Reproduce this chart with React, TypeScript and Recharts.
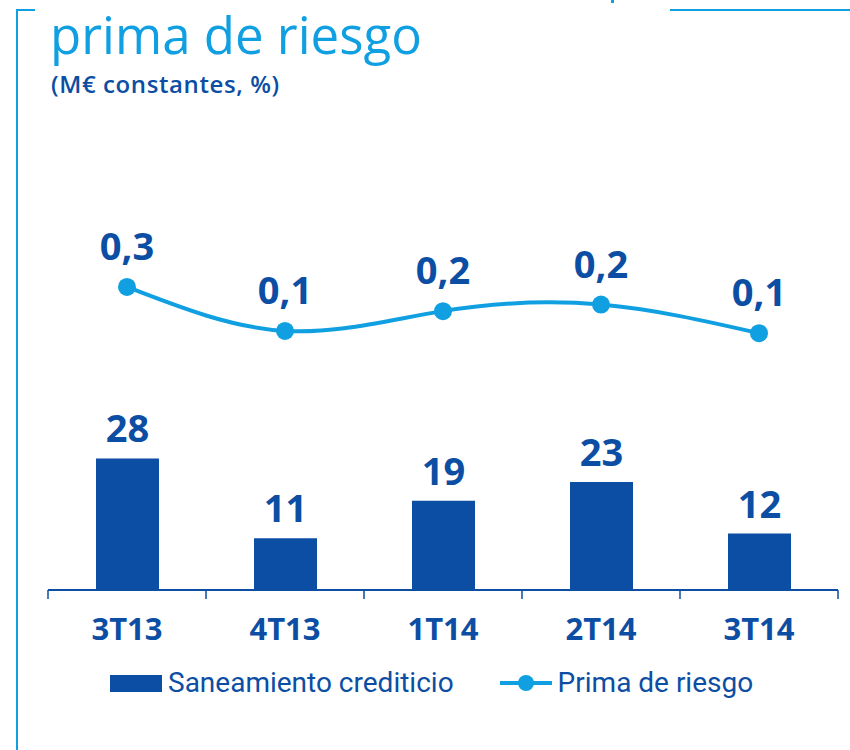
import React from 'react';
import { ComposedChart, Bar, Line, XAxis, YAxis, LabelList } from 'recharts';

const quarters = ['3T13', '4T13', '1T14', '2T14', '3T14'];
const saneamiento = [28, 11, 19, 23, 12];
const primaRiesgo = [0.3, 0.1, 0.19, 0.22, 0.09];

const chartData = quarters.map((q, i) => ({
  quarter: q,
  saneamiento: saneamiento[i],
  prima: primaRiesgo[i],
}));

const DARK = '#0B4EA3';
const CYAN = '#10A0E2';
const W = 850;
const H = 750;
const M = { top: 200, right: 12, bottom: 100, left: 48 };
const halfBand = (W - M.left - M.right) / quarters.length / 2;
const sans = '"Open Sans", "DejaVu Sans", sans-serif';

const QuarterTick = (props: any) => {
  const { x, y, payload, index } = props;
  const isLast = index === quarters.length - 1;
  return (
    <g>
      <line x1={x - halfBand} y1={y - 8} x2={x - halfBand} y2={y + 1} stroke={DARK} strokeWidth={1.5} />
      {isLast && (
        <line x1={x + halfBand} y1={y - 8} x2={x + halfBand} y2={y + 1} stroke={DARK} strokeWidth={1.5} />
      )}
      <text x={x} y={y + 42} textAnchor="middle" fill={DARK} fontSize={31} fontWeight={700} fontFamily={sans}>
        {payload.value}
      </text>
    </g>
  );
};

const fmt = (v: any) => Number(v).toFixed(1).replace('.', ',');

export default function App() {
  return (
    <div style={{ position: 'absolute', left: 0, top: 0, width: W, height: H, background: '#fff', overflow: 'hidden' }}>
      <div style={{ position: 'absolute', left: 16, top: 9, width: 2, height: H, background: CYAN }} />
      <div style={{ position: 'absolute', left: 16, top: 9, width: 19, height: 2, background: CYAN }} />
      <div style={{ position: 'absolute', left: 670, top: 9, width: 180, height: 2, background: CYAN }} />
      <div style={{ position: 'absolute', left: 611, top: 0, width: 3, height: 3, background: CYAN }} />
      <div
        style={{
          position: 'absolute',
          left: 50,
          top: 7,
          fontFamily: sans,
          fontSize: 51,
          color: CYAN,
          lineHeight: '55px',
          whiteSpace: 'nowrap',
        }}
      >
        prima de riesgo
      </div>
      <div
        style={{
          position: 'absolute',
          left: 51,
          top: 69,
          fontFamily: sans,
          fontSize: 24,
          fontWeight: 600,
          letterSpacing: 0.6,
          color: DARK,
          lineHeight: '30px',
          whiteSpace: 'nowrap',
        }}
      >
        (M€ constantes, %)
      </div>
      <div style={{ position: 'absolute', left: 0, top: 0 }}>
        <ComposedChart width={W} height={H} data={chartData} margin={M}>
          <XAxis
            dataKey="quarter"
            axisLine={{ stroke: DARK, strokeWidth: 2 }}
            tickLine={false}
            tick={<QuarterTick />}
            interval={0}
            height={60}
          />
          <YAxis yAxisId="bar" hide domain={[0, 83]} />
          <YAxis yAxisId="line" hide orientation="right" domain={[-1.077, 0.695]} allowDataOverflow />
          <Bar yAxisId="bar" dataKey="saneamiento" fill={DARK} barSize={63} isAnimationActive={false}>
            <LabelList
              dataKey="saneamiento"
              position="top"
              offset={16}
              fill={DARK}
              fontSize={38}
              fontWeight={700}
              fontFamily={sans}
            />
          </Bar>
          <Line
            yAxisId="line"
            dataKey="prima"
            type="natural"
            stroke={CYAN}
            strokeWidth={4}
            dot={{ r: 9, fill: CYAN, stroke: CYAN, strokeWidth: 0 }}
            isAnimationActive={false}
          >
            <LabelList
              dataKey="prima"
              position="top"
              offset={27}
              formatter={fmt}
              fill={DARK}
              fontSize={38}
              fontWeight={700}
              fontFamily={sans}
            />
          </Line>
        </ComposedChart>
      </div>
      <div
        style={{
          position: 'absolute',
          left: 110,
          top: 665,
          display: 'flex',
          alignItems: 'center',
          fontFamily: 'Roboto, sans-serif',
          fontSize: 28,
          color: DARK,
          whiteSpace: 'nowrap',
          lineHeight: '36px',
        }}
      >
        <span style={{ display: 'inline-block', width: 52, height: 17, background: DARK, marginRight: 6 }} />
        <span style={{ marginRight: 46 }}>Saneamiento crediticio</span>
        <svg width={52} height={20} style={{ marginRight: 6 }}>
          <line x1={0} y1={10} x2={52} y2={10} stroke={CYAN} strokeWidth={4} />
          <circle cx={26} cy={10} r={8} fill={CYAN} />
        </svg>
        <span>Prima de riesgo</span>
      </div>
    </div>
  );
}
